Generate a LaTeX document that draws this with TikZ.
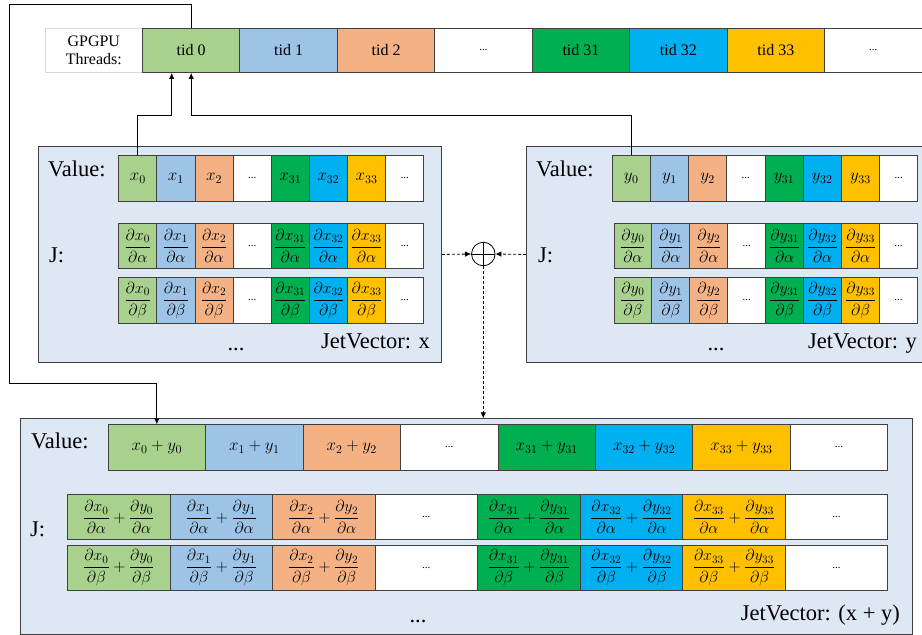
\RequirePackage{fix-cm}
\documentclass[tikz,border=0pt]{standalone}
\usepackage{amsmath}
\usepackage{fontspec}
\setmainfont{Liberation Serif}
\usetikzlibrary{arrows.meta,calc}
\definecolor{cA}{HTML}{A9D18E}
\definecolor{cB}{HTML}{9DC3E6}
\definecolor{cC}{HTML}{F4B183}
\definecolor{cD}{HTML}{FFFFFF}
\definecolor{cE}{HTML}{00B050}
\definecolor{cF}{HTML}{00B0F0}
\definecolor{cG}{HTML}{FFC000}
\definecolor{cH}{HTML}{FFFFFF}
\definecolor{panelblue}{HTML}{DEE8F5}
\definecolor{bordergray}{HTML}{404040}
\definecolor{lightframe}{HTML}{D9D9D9}
\newcommand\celldots{{\fontsize{11}{12}\selectfont...}}
\newcommand\jd[2]{$\dfrac{\partial #1}{\partial #2}$}
\newcommand\jds[2]{$\dfrac{\partial x_{#1}}{\partial #2}+\dfrac{\partial y_{#1}}{\partial #2}$}
% #1 prefix, #2 x, #3 y, #4 cell width, #5 cell height, #6 font size, #7 list colour/text
\newcommand\cellrow[7]{%
  \foreach [count=\ci from 0] \cc/\ctxt in {#7} {
    \node[cell, fill=\cc, minimum width=#4, minimum height=#5,
          font=\fontsize{#6}{#6}\selectfont] (#1\ci) at ({#2+\ci*#4},#3) {\ctxt};
  }}
\begin{document}
\begin{tikzpicture}[x=1pt,y=-1pt,
  cell/.style={draw=bordergray, line width=0.9pt, inner sep=0pt, anchor=north west},
  panel/.style={draw=bordergray, line width=0.9pt, fill=panelblue, inner sep=0pt, anchor=north west},
  conn/.style={draw=black, line width=0.8pt},
  arr/.style={-{Latex[length=6pt,width=5.5pt]}},
  dconn/.style={conn, dash pattern=on 3pt off 2pt},
  lab/.style={font=\fontsize{22.5}{24}\selectfont, inner sep=0pt},
  plus/.style={circle, draw=black, line width=0.8pt, minimum size=23.5pt, inner sep=0pt}]
\useasboundingbox (0,0) rectangle (922,635);

% ---------- GPGPU thread bar ----------
\node[draw=lightframe, line width=0.6pt, minimum width=97, minimum height=44, inner sep=0pt,
      anchor=north west, align=center, font=\fontsize{16}{18}\selectfont] (gl) at (45,28) {GPGPU\\Threads:};
\cellrow{t}{142}{28}{97.45}{44}{16}{cA/tid 0, cB/tid 1, cC/tid 2, cD/\celldots, cE/tid 31, cF/tid 32, cG/tid 33, cH/\celldots}

% ---------- panels ----------
\node[panel, minimum width=403, minimum height=216] (px) at (38,146) {};
\node[panel, minimum width=397, minimum height=216] (py) at (526,146) {};
\node[panel, minimum width=892.3, minimum height=216] (pb) at (20,418.3) {};

% ---------- JetVector x ----------
\node[lab, anchor=base west] (xvl) at (48,176) {Value:};
\node[lab, anchor=base west] (xjl) at (49,262) {J:};
\node[lab, anchor=base] (xdots) at (236,350) {...};
\node[lab, anchor=base east] (xname) at (430,348) {JetVector: x};
\cellrow{xv}{118.3}{155.3}{38.13}{45.4}{17}{cA/$x_0$, cB/$x_1$, cC/$x_2$, cD/\celldots, cE/$x_{31}$, cF/$x_{32}$, cG/$x_{33}$, cH/\celldots}
\cellrow{xa}{118.3}{222.7}{38.13}{45.4}{16}{cA/\jd{x_0}{\alpha}, cB/\jd{x_1}{\alpha}, cC/\jd{x_2}{\alpha}, cD/\celldots, cE/\jd{x_{31}}{\alpha}, cF/\jd{x_{32}}{\alpha}, cG/\jd{x_{33}}{\alpha}, cH/\celldots}
\cellrow{xb}{118.3}{277.3}{38.13}{45.4}{16}{cA/\jd{x_0}{\beta}, cB/\jd{x_1}{\beta}, cC/\jd{x_2}{\beta}, cD/\celldots, cE/\jd{x_{31}}{\beta}, cF/\jd{x_{32}}{\beta}, cG/\jd{x_{33}}{\beta}, cH/\celldots}

% ---------- JetVector y ----------
\node[lab, anchor=base west] (yvl) at (536,176) {Value:};
\node[lab, anchor=base west] (yjl) at (538,262) {J:};
\node[lab, anchor=base] (ydots) at (716,350) {...};
\node[lab, anchor=base east] (yname) at (917,348) {JetVector: y};
\cellrow{yv}{611.7}{155.3}{38.2}{45.4}{17}{cA/$y_0$, cB/$y_1$, cC/$y_2$, cD/\celldots, cE/$y_{31}$, cF/$y_{32}$, cG/$y_{33}$, cH/\celldots}
\cellrow{ya}{613.5}{222.7}{37.95}{45.4}{16}{cA/\jd{y_0}{\alpha}, cB/\jd{y_1}{\alpha}, cC/\jd{y_2}{\alpha}, cD/\celldots, cE/\jd{y_{31}}{\alpha}, cF/\jd{y_{32}}{\alpha}, cG/\jd{y_{33}}{\alpha}, cH/\celldots}
\cellrow{yb}{613.5}{277.3}{37.95}{45.4}{16}{cA/\jd{y_0}{\beta}, cB/\jd{y_1}{\beta}, cC/\jd{y_2}{\beta}, cD/\celldots, cE/\jd{y_{31}}{\beta}, cF/\jd{y_{32}}{\beta}, cG/\jd{y_{33}}{\beta}, cH/\celldots}

% ---------- JetVector x + y ----------
\node[lab, anchor=base west] (bvl) at (31,448) {Value:};
\node[lab, anchor=base west] (bjl) at (30,536) {J:};
\node[lab, anchor=base] (bdots) at (418,622) {...};
\node[lab, anchor=base east] (bname) at (900,620.5) {JetVector: (x + y)};
\cellrow{bv}{107.7}{424.3}{97.45}{45.4}{17}{cA/$x_0+y_0$, cB/$x_1+y_1$, cC/$x_2+y_2$, cD/\celldots, cE/$x_{31}+y_{31}$, cF/$x_{32}+y_{32}$, cG/$x_{33}+y_{33}$, cH/\celldots}
\cellrow{ba}{67}{494.3}{102.54}{44.4}{16}{cA/\jds{0}{\alpha}, cB/\jds{1}{\alpha}, cC/\jds{2}{\alpha}, cD/\celldots, cE/\jds{31}{\alpha}, cF/\jds{32}{\alpha}, cG/\jds{33}{\alpha}, cH/\celldots}
\cellrow{bb}{67}{545}{102.54}{44.6}{16}{cA/\jds{0}{\beta}, cB/\jds{1}{\beta}, cC/\jds{2}{\beta}, cD/\celldots, cE/\jds{31}{\beta}, cF/\jds{32}{\beta}, cG/\jds{33}{\beta}, cH/\celldots}

% ---------- oplus ----------
\node[plus] (op) at (483.3,254) {};
\draw[conn] (op.north) -- (op.south) (op.west) -- (op.east);

% ---------- connectors ----------
\coordinate (ltop) at (9.5,4);
\coordinate (lbot) at (9.5,383.3);
\coordinate (tx) at ($(t0.south)+(-19.5,0)$);
\draw[conn, arr] (t0.north) |- (ltop) -- (lbot) -| (bv0.north);
\draw[conn, arr] (xv0.north) |- ($(tx)+(0,42)$) -- (tx);
\draw[conn, arr] (yv0.north) |- ($(t0.south)+(0,42)$) -- (t0.south);
\draw[dconn, arr] (px.east) -- (op.west);
\draw[dconn, arr] (py.west) -- (op.east);
\draw[dconn, arr] (op.south) -- (op.south |- pb.north);
\end{tikzpicture}
\end{document}
